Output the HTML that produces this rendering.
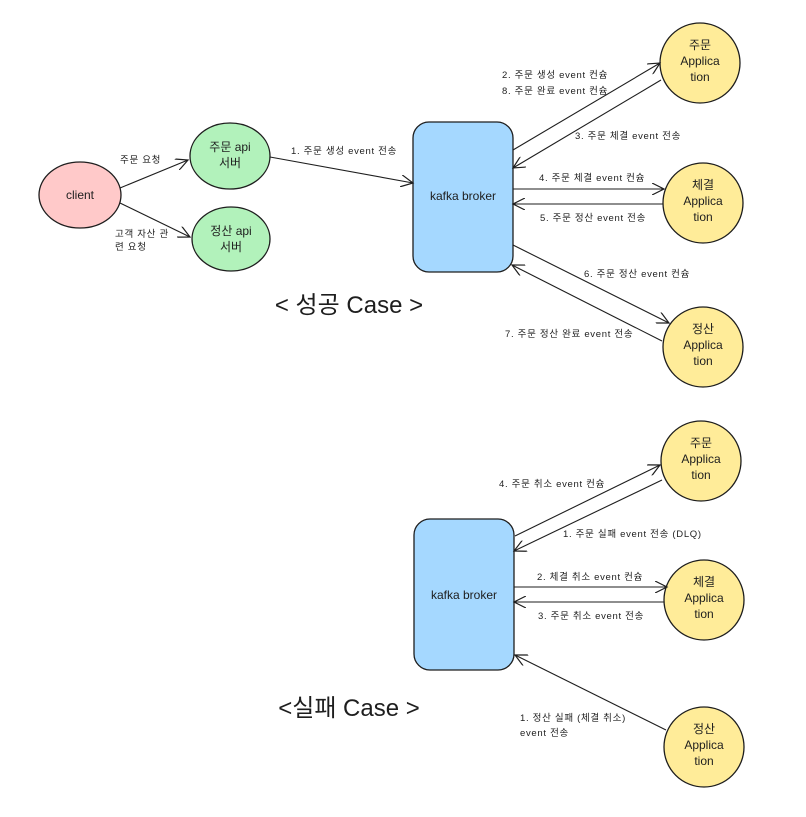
<!DOCTYPE html>
<html><head><meta charset="utf-8"><style>
html,body{margin:0;padding:0;background:#fff}
svg text{font-family:"Liberation Sans","Noto Sans CJK KR",sans-serif;fill:#1e1e1e}
.s{font-size:9.5px;letter-spacing:0.7px}
.n{font-size:12px}
</style></head><body>
<svg width="806" height="812" viewBox="0 0 806 812" xmlns="http://www.w3.org/2000/svg">
<defs><marker id="a" markerWidth="14" markerHeight="12" refX="12" refY="6" orient="auto" markerUnits="userSpaceOnUse"><path d="M0,0 L12,6 L0,12" fill="none" stroke="#1e1e1e" stroke-width="1.2"/></marker></defs>
<g stroke="#1e1e1e" stroke-width="1.3">
<ellipse cx="80" cy="195" rx="41" ry="33" fill="#ffc9c9"/>
<ellipse cx="230" cy="156" rx="40" ry="33" fill="#b2f2bb"/>
<ellipse cx="231" cy="239" rx="39" ry="32" fill="#b2f2bb"/>
<rect x="413" y="122" width="100" height="150" rx="16" fill="#a5d8ff"/>
<circle cx="700" cy="63" r="40" fill="#ffec99"/>
<circle cx="703" cy="203" r="40" fill="#ffec99"/>
<circle cx="703" cy="347" r="40" fill="#ffec99"/>
<rect x="414" y="519" width="100" height="151" rx="16" fill="#a5d8ff"/>
<circle cx="701" cy="461" r="40" fill="#ffec99"/>
<circle cx="704" cy="600" r="40" fill="#ffec99"/>
<circle cx="704" cy="747" r="40" fill="#ffec99"/>
</g>
<g stroke="#1e1e1e" stroke-width="1.1" fill="none" marker-end="url(#a)">
<line x1="120" y1="188" x2="188" y2="160"/>
<line x1="120" y1="203" x2="190" y2="237"/>
<line x1="270" y1="157" x2="413" y2="183"/>
<line x1="513" y1="150" x2="660" y2="63"/>
<line x1="661" y1="80" x2="513" y2="168"/>
<line x1="513" y1="189" x2="664" y2="189"/>
<line x1="663" y1="204" x2="513" y2="204"/>
<line x1="513" y1="245" x2="669" y2="323"/>
<line x1="662" y1="341" x2="512" y2="265"/>
<line x1="515" y1="536" x2="660" y2="465"/>
<line x1="662" y1="480" x2="514" y2="551"/>
<line x1="514" y1="587" x2="667" y2="587"/>
<line x1="664" y1="602" x2="514" y2="602"/>
<line x1="666" y1="730" x2="515" y2="655"/>
</g>
<g class="s">
<text x="120" y="163">주문 요청</text>
<text x="115" y="237">고객 자산 관</text>
<text x="115" y="250">련 요청</text>
<text x="291" y="154">1. 주문 생성 event 전송</text>
<text x="502" y="78">2. 주문 생성 event 컨슘</text>
<text x="502" y="94">8. 주문 완료 event 컨슘</text>
<text x="575" y="139">3. 주문 체결 event 전송</text>
<text x="539" y="181">4. 주문 체결 event 컨슘</text>
<text x="540" y="221">5. 주문 정산 event 전송</text>
<text x="584" y="277">6. 주문 정산 event 컨슘</text>
<text x="505" y="337">7. 주문 정산 완료 event 전송</text>
<text x="499" y="487">4. 주문 취소 event 컨슘</text>
<text x="563" y="537">1. 주문 실패 event 전송 (DLQ)</text>
<text x="537" y="580">2. 체결 취소 event 컨슘</text>
<text x="538" y="619">3. 주문 취소 event 전송</text>
<text x="520" y="721">1. 정산 실패 (체결 취소)</text>
<text x="520" y="736">event 전송</text>
</g>
<g class="n" text-anchor="middle">
<text x="80" y="199">client</text>
<text x="230" y="151">주문 api</text>
<text x="230" y="167">서버</text>
<text x="231" y="235">정산 api</text>
<text x="231" y="251">서버</text>
<text x="463" y="200">kafka broker</text>
<text x="464" y="599">kafka broker</text>
<text x="700" y="49">주문</text><text x="700" y="65">Applica</text><text x="700" y="81">tion</text>
<text x="703" y="189">체결</text><text x="703" y="205">Applica</text><text x="703" y="221">tion</text>
<text x="703" y="333">정산</text><text x="703" y="349">Applica</text><text x="703" y="365">tion</text>
<text x="701" y="447">주문</text><text x="701" y="463">Applica</text><text x="701" y="479">tion</text>
<text x="704" y="586">체결</text><text x="704" y="602">Applica</text><text x="704" y="618">tion</text>
<text x="704" y="733">정산</text><text x="704" y="749">Applica</text><text x="704" y="765">tion</text>
</g>
<text x="349" y="313" font-size="24" text-anchor="middle">&lt; 성공 Case &gt;</text>
<text x="349" y="716" font-size="24" text-anchor="middle">&lt;실패 Case &gt;</text>
</svg>
</body></html>
